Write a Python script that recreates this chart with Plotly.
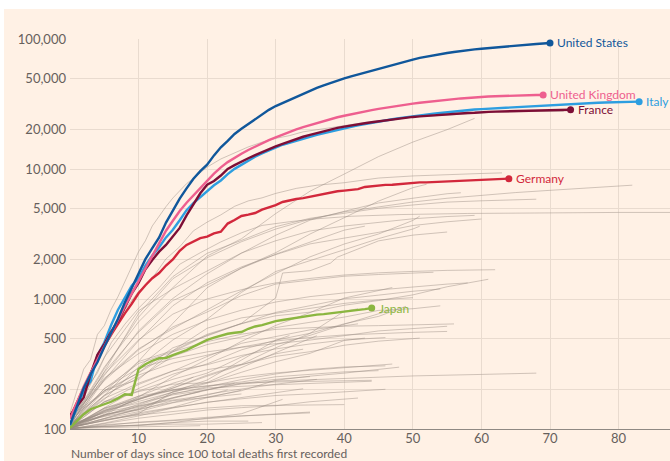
import math
import plotly.graph_objects as go

# ---------------- data (cumulative deaths, index = days since 100th death) ----------------
us_deaths = [108, 150, 206, 264, 326, 427, 551, 706, 942, 1209,
             1581, 2026, 2467, 2978, 3873, 4757, 5926, 7087, 8407, 9619,
             10783, 12722, 14695, 16478, 18600, 20400, 22200, 24200, 26300, 28500,
             30500, 32200, 34000, 36000, 38000, 40000, 42000, 44000, 46000, 48000,
             49800, 51600, 53400, 55000, 57000, 59000, 61000, 63000, 65500, 67500,
             69500, 71500, 73300, 75000, 76500, 78000, 79500, 81000, 82300, 83200,
             84200, 85200, 86200, 87000, 88000, 89000, 90000, 90800, 91600, 92400,
             93200]

uk_deaths = [120, 160, 210, 270, 340, 430, 540, 690, 880, 1100,
             1400, 1750, 2200, 2750, 3350, 4000, 4750, 5500, 6300, 7200,
             8100, 9200, 10300, 11300, 12200, 13100, 14000, 14900, 15800, 16700,
             17500, 18400, 19300, 20200, 21000, 21800, 22600, 23400, 24200, 25000,
             25700, 26400, 27100, 27800, 28400, 29000, 29600, 30200, 30800, 31300,
             31800, 32300, 32800, 33300, 33700, 34100, 34500, 34900, 35300, 35600,
             35900, 36100, 36300, 36500, 36650, 36800, 36900, 37000, 37050, 37100]

italy_deaths = [107, 148, 197, 233, 366, 463, 631, 827, 1016, 1266,
                1441, 1809, 2158, 2503, 2978, 3405, 4032, 4825, 5476, 6077,
                6820, 7503, 8165, 9134, 10023, 10779, 11591, 12428, 13155, 13915,
                14681, 15362, 15887, 16523, 17127, 17669, 18279, 18849, 19468, 19899,
                20465, 21067, 21645, 22170, 22745, 23227, 23660, 24114, 24648, 25085,
                25549, 25969, 26384, 26644, 26977, 27359, 27682, 27967, 28236, 28710,
                28884, 29079, 29315, 29684, 29958, 30201, 30395, 30560, 30739, 30911,
                31106, 31368, 31610, 31763, 31908, 32007, 32169, 32330, 32486, 32616,
                32735, 32785, 32877, 32955]

france_deaths = [127, 148, 175, 264, 372, 450, 562, 674, 860, 1100,
                 1331, 1696, 1995, 2314, 2606, 3024, 3523, 4403, 5387, 6507,
                 7560, 8078, 8911, 10000, 10700, 11300, 12100, 12800, 13500, 14200,
                 14900, 15600, 16300, 17000, 17700, 18300, 18900, 19500, 20100, 20700,
                 21200, 21700, 22100, 22500, 22900, 23300, 23700, 24100, 24500, 24900,
                 25150, 25400, 25650, 25900, 26150, 26310, 26380, 26643, 26991, 27074,
                 27425, 27529, 27625, 27700, 27850, 28022, 28132, 28215, 28289, 28332,
                 28367, 28460, 28530, 28596]

germany_deaths = [123, 157, 206, 267, 342, 433, 533, 645, 775, 920,
                  1107, 1275, 1444, 1584, 1810, 2016, 2349, 2607, 2767, 2936,
                  3022, 3194, 3294, 3804, 4052, 4352, 4459, 4586, 4862, 5033,
                  5279, 5575, 5760, 5877, 5976, 6126, 6314, 6467, 6623, 6736,
                  6812, 6866, 6993, 7275, 7392, 7510, 7549, 7569, 7661, 7738,
                  7861, 7884, 7897, 7938, 7962, 8003, 8081, 8144, 8203, 8228,
                  8261, 8283, 8309, 8372, 8428]

japan_deaths = [102, 115, 130, 142, 148, 155, 162, 172, 185, 183,
                290, 315, 335, 350, 352, 370, 385, 405, 430, 458,
                484, 505, 522, 540, 550, 557, 590, 615, 630, 655,
                675, 690, 705, 718, 730, 745, 758, 765, 775, 785,
                800, 812, 825, 835, 851]

# other countries (grey): (days since 100th death, cumulative deaths)
spain = ([0, 1, 2, 3, 4, 5, 6, 7, 8, 9, 10, 11, 12, 13, 14, 15, 16, 17, 18, 19, 20,
          22, 24, 26, 28, 30, 32, 34, 36, 38, 40, 42, 44, 46, 48, 50, 54, 58, 62, 66, 70, 72],
         [133, 195, 289, 342, 533, 623, 830, 1043, 1375, 1772, 2311, 2808, 3647, 4365, 5138,
          5982, 6803, 7716, 8464, 9387, 10348, 11947, 13341, 14792, 16081, 17209, 18056, 19315,
          20043, 20852, 21717, 22524, 23190, 23822, 24543, 25100, 25857, 26621, 27321, 27650,
          27750, 27800])
brazil = ([0, 5, 10, 15, 20, 25, 30, 35, 40, 45, 50, 55, 59],
          [111, 299, 667, 1223, 2141, 2906, 4543, 6750, 9146, 12461, 16118, 20082, 24512])
belgium = ([0, 2, 4, 6, 8, 10, 12, 14, 16, 18, 20, 22, 24, 26, 28, 30, 33, 36, 40, 45, 50, 55, 60, 63],
           [122, 220, 353, 513, 828, 1143, 1447, 2035, 2523, 3346, 3903, 4440, 5163, 5683, 5998,
            6490, 7094, 7501, 7844, 8521, 8843, 9080, 9237, 9334])
iran = ([0, 5, 10, 15, 20, 25, 30, 35, 40, 45, 50, 55, 60, 65, 70, 75, 80, 82],
        [107, 291, 724, 1433, 2077, 2757, 3452, 4110, 4683, 5118, 5574, 5957, 6277, 6589, 6854,
         7119, 7417, 7508])
china = ([0, 2, 4, 6, 8, 10, 13, 16, 19, 22, 25, 28, 32, 36, 41, 48, 58, 69, 80, 120],
         [106, 190, 270, 460, 640, 850, 1220, 1850, 2270, 2750, 3230, 3680, 3930, 4140, 4330,
          4460, 4550, 4620, 4634, 4634])
netherlands = ([0, 5, 10, 15, 20, 25, 30, 35, 40, 45, 50, 55, 60, 65, 68],
               [106, 276, 771, 1487, 2248, 2823, 3601, 4177, 4566, 4987, 5288, 5562, 5694, 5811, 5856])
sweden = ([0, 5, 10, 15, 20, 25, 30, 35, 40, 45, 50, 55, 60],
          [102, 239, 477, 887, 1333, 1765, 2194, 2653, 2941, 3256, 3674, 3925, 4125])
turkey = ([0, 5, 10, 15, 20, 25, 30, 35, 40, 45, 50, 55, 59],
          [108, 356, 812, 1198, 1643, 2259, 2805, 3336, 3641, 3894, 4140, 4308, 4397])
canada = ([0, 5, 10, 15, 20, 25, 30, 35, 40, 45, 50, 55, 57],
          [101, 258, 569, 1010, 1563, 2250, 3092, 4043, 4728, 5482, 5960, 6453, 6566])
mexico = ([0, 5, 10, 15, 20, 25, 30, 35, 40, 45, 50, 52],
          [125, 194, 332, 650, 1221, 1732, 2271, 3160, 4220, 5666, 7179, 7633])
switzerland = ([0, 5, 10, 15, 20, 25, 30, 35, 40, 45, 50, 55, 62],
               [120, 264, 484, 765, 1000, 1180, 1330, 1440, 1530, 1590, 1630, 1660, 1680])
ireland = ([0, 5, 10, 15, 20, 25, 30, 35, 40, 45, 50, 53],
           [120, 235, 406, 610, 794, 1063, 1303, 1403, 1497, 1543, 1592, 1606])
portugal = ([0, 5, 10, 15, 20, 25, 30, 35, 40, 45, 50, 55, 58],
            [119, 246, 380, 535, 687, 820, 948, 1043, 1114, 1175, 1231, 1302, 1330])
india = ([0, 5, 10, 15, 20, 25, 30, 35, 40, 45, 50, 51],
         [109, 242, 414, 590, 826, 1154, 1568, 2109, 2649, 3163, 4021, 4337])
russia = ([0, 5, 10, 15, 20, 25, 30, 35, 40, 43],
          [106, 273, 555, 972, 1280, 1723, 2212, 2722, 3388, 3633])
peru = ([0, 5, 10, 15, 20, 25, 30, 35, 40, 45, 50, 51],
        [107, 169, 300, 484, 700, 1124, 1627, 1961, 2392, 2914, 3456, 3629])
ecuador = ([0, 5, 10, 15, 20, 25, 30, 31, 35, 38, 39, 45, 50, 55],
           [120, 191, 272, 421, 520, 650, 1020, 1585, 1650, 1890, 2100, 2800, 3100, 3275])
indonesia = ([0, 5, 10, 15, 20, 25, 30, 35, 40, 45, 50, 55, 61],
             [102, 198, 240, 399, 535, 647, 743, 792, 895, 973, 1076, 1242, 1418])
romania = ([0, 5, 10, 15, 20, 25, 30, 35, 40, 45, 50, 54],
           [115, 197, 270, 392, 527, 641, 789, 888, 1004, 1071, 1147, 1194])
poland = ([0, 5, 10, 15, 20, 25, 30, 35, 40, 45, 50],
          [109, 181, 330, 401, 596, 716, 776, 843, 925, 985, 1024])
austria = ([0, 5, 10, 15, 20, 25, 30, 35, 40, 45, 50, 56],
           [108, 204, 319, 393, 470, 536, 584, 600, 618, 624, 633, 643])
denmark = ([0, 5, 10, 15, 20, 25, 30, 35, 40, 45, 50, 55],
           [104, 179, 260, 321, 370, 427, 475, 506, 529, 543, 554, 563])
philippines = ([0, 5, 10, 15, 20, 25, 30, 35, 40, 45, 50, 54],
               [107, 182, 247, 362, 446, 511, 603, 658, 726, 817, 842, 886])
egypt = ([0, 5, 10, 15, 20, 25, 30, 35, 40, 45, 49],
         [103, 146, 205, 264, 317, 406, 482, 545, 645, 735, 879])
algeria = ([0, 5, 10, 15, 20, 25, 30, 35, 40, 45, 50, 55],
           [105, 205, 293, 348, 392, 425, 453, 483, 522, 568, 592, 617])
colombia = ([0, 5, 10, 15, 20, 25, 30, 35, 40, 45, 47],
            [100, 138, 179, 225, 269, 358, 445, 525, 639, 776, 829])
pakistan = ([0, 5, 10, 15, 20, 25, 30, 35, 40, 45, 47],
            [100, 128, 176, 253, 343, 472, 626, 786, 1017, 1167, 1225])
hungary = ([0, 5, 10, 15, 20, 25, 30, 35, 40, 46],
           [109, 172, 225, 280, 312, 368, 413, 451, 484, 505])
chile = ([0, 5, 10, 15, 20, 25, 30, 35, 40, 42],
         [105, 139, 168, 207, 260, 315, 421, 544, 806, 841])
south_korea = ([0, 5, 10, 15, 20, 25, 30, 35, 40, 50, 60, 68],
               [102, 139, 158, 183, 200, 222, 234, 240, 246, 256, 263, 269])
ukraine = ([0, 5, 10, 15, 20, 25, 30, 35, 40, 42],
           [108, 161, 220, 279, 361, 456, 514, 579, 623, 644])
czechia = ([0, 5, 10, 15, 20, 25, 30, 35, 40, 47],
           [104, 161, 194, 221, 227, 252, 270, 283, 297, 316])
dominican_rep = ([0, 5, 10, 15, 20, 25, 30, 35, 40, 45, 51],
                 [102, 163, 196, 241, 286, 313, 362, 393, 441, 474, 500])
argentina = ([0, 5, 10, 15, 20, 25, 30, 35, 40, 43],
             [100, 136, 163, 192, 225, 273, 329, 382, 480, 500])
saudi_arabia = ([0, 5, 10, 15, 20, 25, 30, 34],
                [103, 136, 169, 206, 255, 312, 379, 411])
bangladesh = ([0, 5, 10, 15, 20, 25, 30, 36],
              [101, 145, 170, 199, 228, 298, 386, 522])
morocco = ([0, 5, 10, 15, 20, 25, 30, 35, 40, 46],
           [100, 111, 126, 145, 161, 170, 181, 186, 192, 202])
finland = ([0, 5, 10, 15, 20, 25, 30, 35, 40, 46],
           [100, 130, 141, 186, 211, 240, 265, 287, 300, 306])
norway = ([0, 5, 10, 15, 20, 25, 30, 35, 40, 44],
          [108, 134, 152, 187, 207, 214, 219, 224, 230, 233])
serbia = ([0, 5, 10, 15, 20, 25, 30, 35, 40, 44],
          [103, 144, 179, 198, 214, 225, 230, 232, 235, 237])
israel = ([0, 5, 10, 15, 20, 25, 30, 35, 40, 45],
          [101, 142, 173, 201, 215, 230, 252, 264, 275, 281])
greece = ([0, 5, 10, 15, 20, 25, 30, 35, 40, 42],
          [100, 110, 121, 130, 140, 146, 151, 162, 171, 173])
panama = ([0, 5, 10, 15, 20, 25, 30, 35, 40, 48],
          [103, 120, 136, 159, 176, 197, 237, 255, 269, 299])
south_africa = ([0, 5, 10, 15, 20, 25, 30, 32],
                [103, 116, 131, 194, 238, 339, 481, 524])
bolivia = ([0, 5, 10, 15, 20, 24], [106, 128, 147, 174, 199, 225])
moldova = ([0, 5, 10, 15, 20, 25, 30, 36], [102, 121, 142, 160, 185, 203, 221, 241])
iraq = ([0, 5, 10, 15, 20, 25, 31], [102, 104, 107, 112, 121, 131, 169])
afghanistan = ([0, 5, 10, 15, 17], [104, 127, 155, 193, 205])
bosnia = ([0, 5, 10, 15, 20, 25, 30, 35, 40], [101, 118, 128, 137, 145, 151, 153, 153, 154])
luxembourg = ([0, 5, 10, 15, 20, 25, 28], [102, 104, 107, 109, 109, 110, 112])
kuwait = ([0, 5, 10, 15, 19], [101, 121, 144, 172, 194])
belarus = ([0, 5, 10, 15, 20, 25, 30, 34], [103, 116, 131, 146, 160, 175, 190, 204])
bulgaria = ([0, 5, 10, 15, 20, 25, 30, 35], [100, 108, 112, 116, 120, 126, 130, 133])
cameroon = ([0, 5, 10, 15, 20, 25], [108, 125, 140, 165, 175, 186])
north_macedonia = ([0, 5, 10, 15, 20, 25, 30, 35], [100, 106, 113, 117, 123, 126, 130, 135])
slovenia = ([0, 5, 10, 15, 19], [101, 103, 104, 105, 106])
honduras = ([0, 5, 10, 15, 20, 25], [103, 116, 133, 147, 174, 199])
nigeria = ([0, 5, 10, 15, 20, 23], [107, 128, 150, 167, 182, 200])
uae = ([0, 5, 10, 15, 20, 25, 30, 35], [105, 126, 150, 174, 201, 224, 241, 253])
malaysia = ([0, 5, 10, 15, 20, 26], [100, 105, 107, 112, 115, 115])
sudan = ([0, 5, 10, 15, 18], [108, 133, 170, 212, 251])

grey_countries = [spain, brazil, belgium, iran, china, netherlands, sweden, turkey, canada,
                  mexico, switzerland, ireland, portugal, india, russia, peru, ecuador,
                  indonesia, romania, poland, austria, denmark, philippines, egypt, algeria,
                  colombia, pakistan, hungary, chile, south_korea, ukraine, czechia,
                  dominican_rep, argentina, saudi_arabia, bangladesh, morocco, finland,
                  norway, serbia, israel, greece, panama, south_africa, bolivia, moldova,
                  iraq, afghanistan, bosnia, luxembourg, kuwait, belarus, bulgaria,
                  cameroon, north_macedonia, slovenia, honduras, nigeria, uae, malaysia, sudan]

highlight_names = ["Japan", "Germany", "Italy", "France", "United Kingdom", "United States"]
highlight_values = [japan_deaths, germany_deaths, italy_deaths, france_deaths, uk_deaths, us_deaths]
highlight_colors = ["#8bb640", "#d2283c", "#2d9ee0", "#7d0e36", "#ee5f8f", "#10579b"]

x_tick_vals = [10, 20, 30, 40, 50, 60, 70, 80]
y_tick_vals = [100, 200, 500, 1000, 2000, 5000, 10000, 20000, 50000, 100000]
y_tick_text = ["100", "200", "500", "1,000", "2,000", "5,000", "10,000", "20,000", "50,000", "100,000"]
x_title = "Number of days since 100 total deaths first recorded"

# ---------------- figure ----------------
BG = "#fff1e5"
FONT = "Lato, 'Open Sans', sans-serif"

fig = go.Figure()

for days, vals in grey_countries:
    fig.add_trace(go.Scatter(x=days, y=vals, mode="lines",
                             line=dict(color="rgba(150,138,128,0.45)", width=1),
                             hoverinfo="skip"))

annotations = []
for name, vals, col in zip(highlight_names, highlight_values, highlight_colors):
    days = list(range(len(vals)))
    fig.add_trace(go.Scatter(x=days, y=vals, mode="lines",
                             line=dict(color=col, width=2.4), name=name))
    fig.add_trace(go.Scatter(x=[days[-1]], y=[vals[-1]], mode="markers",
                             marker=dict(color=col, size=7), hoverinfo="skip"))
    annotations.append(dict(x=days[-1], y=math.log10(vals[-1]), xref="x", yref="y",
                            text=name, showarrow=False, xanchor="left", yanchor="middle",
                            xshift=5, font=dict(family=FONT, size=12, color=col)))

annotations.append(dict(x=0, y=0, xref="paper", yref="paper", text=x_title,
                        showarrow=False, xanchor="left", yanchor="top", yshift=-16,
                        borderpad=0,
                        font=dict(family=FONT, size=12, color="#66605c")))

fig.update_layout(
    width=670, height=461,
    margin=dict(l=70, r=0, t=39, b=32),
    paper_bgcolor=BG, plot_bgcolor=BG,
    showlegend=False,
    font=dict(family=FONT, size=12, color="#66605c"),
    annotations=annotations,
    shapes=[
        dict(type="rect", xref="paper", yref="paper", x0=-0.2, x1=1.05, y0=1.0769, y1=1.2,
             fillcolor="white", line=dict(width=0), layer="above"),
        dict(type="rect", xref="paper", yref="paper", x0=-0.2, x1=-0.11, y0=-0.2, y1=1.2,
             fillcolor="white", line=dict(width=0), layer="above"),
    ],
)
fig.update_xaxes(range=[0, 87.5], tickvals=x_tick_vals, showgrid=True,
                 gridcolor="#e9dbcf", gridwidth=1, zeroline=False,
                 showline=True, linecolor="#8f8983", linewidth=1, ticks="",
                 ticklabelstandoff=-3,
                 tickfont=dict(family=FONT, size=13, color="#66605c"))
fig.update_yaxes(type="log", range=[2, 5], tickvals=y_tick_vals, ticktext=y_tick_text,
                 showgrid=True, gridcolor="#e9dbcf", gridwidth=1, zeroline=False,
                 showline=False, ticks="", ticklabelstandoff=3,
                 tickfont=dict(family=FONT, size=13, color="#66605c"))

fig.write_html("out.html", config={"displayModeBar": False},
               post_script="document.body.style.margin='0';")
